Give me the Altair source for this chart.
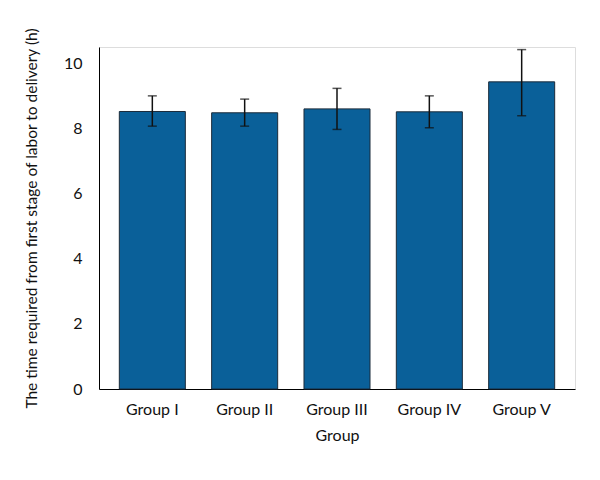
import altair as alt
import pandas as pd

groups = ["Group I", "Group II", "Group III", "Group IV", "Group V"]
means = [8.52, 8.48, 8.60, 8.51, 9.43]
upper = [9.00, 8.90, 9.23, 9.00, 10.42]
lower = [8.07, 8.07, 7.97, 8.02, 8.39]

df = pd.DataFrame({"group": groups, "mean": means, "hi": upper, "lo": lower})

FONT = "Lato"

x = alt.X("group:N", sort=groups, title="Group",
          scale=alt.Scale(paddingInner=0.285, paddingOuter=0.22),
          axis=alt.Axis(labelAngle=0, ticks=False, domainColor="#000", domainWidth=1,
                        labelFontSize=16, labelPadding=12, titleFontSize=16,
                        titleFontWeight="normal", titlePadding=10, labelColor="#111", titleColor="#111"))
y_axis = alt.Axis(ticks=False, grid=False, values=[0, 2, 4, 6, 8, 10], domainColor="#000", domainWidth=1,
                  labelFontSize=16, labelPadding=17, titleFontSize=15.5, titleFontWeight="normal",
                  titlePadding=24, labelColor="#111", titleColor="#111")

base = alt.Chart(df)
bars = base.mark_bar(color="#0a6099", stroke="#1b2b3a", strokeWidth=1).encode(
    x=x,
    y=alt.Y("mean:Q", title="The time required from first stage of labor to delivery (h)",
            scale=alt.Scale(domain=[0, 10.5], nice=False), axis=y_axis),
)
rule = base.mark_rule(color="#111", strokeWidth=1.5).encode(
    x=alt.X("group:N", sort=groups), y="lo:Q", y2="hi:Q")
cap_hi = base.mark_tick(color="#111", size=9, thickness=1.5).encode(
    x=alt.X("group:N", sort=groups), y="hi:Q")
cap_lo = base.mark_tick(color="#111", size=9, thickness=1.5).encode(
    x=alt.X("group:N", sort=groups), y="lo:Q")

chart = alt.layer(bars, rule, cap_hi, cap_lo).properties(
    width=476, height=342,
    autosize=alt.AutoSizeParams(type="none"),
    padding={"left": 91, "top": 39, "right": 17, "bottom": 83},
).configure_view(stroke=None).configure_axis(grid=False).configure(font=FONT)

chart.save("out.html", embed_options={"renderer": "svg", "actions": False})
